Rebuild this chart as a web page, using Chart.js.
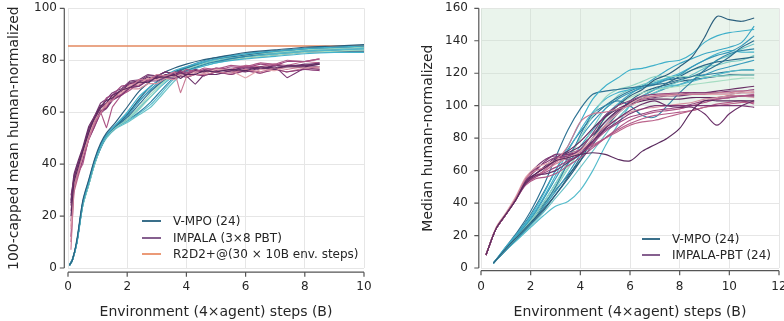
<!DOCTYPE html>
<html><head><meta charset="utf-8">
<script src="https://cdn.jsdelivr.net/npm/chart.js@4/dist/chart.umd.min.js"></script>
<style>
body{margin:0;background:#fff;}
#wrap{position:relative;width:784px;height:321px;overflow:hidden;font-family:'DejaVu Sans',sans-serif;color:#262626;}
canvas{position:absolute;top:0;}
.lg{position:absolute;font-size:12px;line-height:14px;white-space:nowrap;font-family:'DejaVu Sans',sans-serif;color:#262626;}
.sw{position:absolute;height:2px;width:19px;}
</style></head><body>
<div id="wrap">
<canvas id="c1" width="392" height="321" style="left:0"></canvas>
<canvas id="c2" width="392" height="321" style="left:392px"></canvas>
<div class="sw" style="left:142px;top:220px;background:#3a6f8a"></div>
<div class="lg" style="left:173px;top:214px">V-MPO (24)</div>
<div class="sw" style="left:142px;top:237px;background:#86608f"></div>
<div class="lg" style="left:173px;top:231px">IMPALA (3×8 PBT)</div>
<div class="sw" style="left:142px;top:253px;background:#eb9a77"></div>
<div class="lg" style="left:173px;top:247px">R2D2+@(30 × 10B env. steps)</div>
<div class="sw" style="left:642px;top:238px;width:18px;background:#3a6f8a"></div>
<div class="lg" style="left:672px;top:232px">V-MPO (24)</div>
<div class="sw" style="left:642px;top:254px;width:18px;background:#86608f"></div>
<div class="lg" style="left:672px;top:248px">IMPALA-PBT (24)</div>
</div>
<script>
// ---------- DATA ----------
const leftXTicks = [0, 2, 4, 6, 8, 10];
const leftYTicks = [0, 20, 40, 60, 80, 100];
const rightXTicks = [0, 2, 4, 6, 8, 10, 12];
const rightYTicks = [0, 20, 40, 60, 80, 100, 120, 140, 160];

const r2d2Level = 85.5;
const r2d2X = [0, 10];

// Left panel: V-MPO runs (x = env steps, B)
const leftVmpoX = [0.05, 0.15, 0.3, 0.5, 0.7, 0.9, 1.1, 1.3, 1.6, 2.0, 2.4, 2.8, 3.2, 3.6, 4.0, 4.5, 5, 6, 7, 8, 9, 10];
const leftVmpo = [
  [1, 3, 11, 26, 34, 42, 48, 52, 56, 62, 68, 72, 75, 77, 78.5, 80, 81, 83, 84, 85, 85.5, 86],
  [1, 3, 10, 25, 33, 41, 47, 51, 55, 60, 66, 70, 73.5, 76, 77.5, 79, 80.5, 82.5, 83.5, 84.5, 85, 85.5],
  [1.2, 3.5, 10, 25, 33, 41, 47, 51, 54.5, 58, 63, 68, 72, 75, 77, 79, 80.5, 82, 83.5, 84.5, 85, 85.5],
  [1, 3, 10, 24, 32, 40, 46.5, 50.5, 54, 57, 61, 66, 71, 74.5, 76.5, 78.5, 80, 82, 83, 84, 84.5, 85],
  [1, 3, 9.5, 24, 32, 40, 46, 50.5, 54, 57, 60, 64, 69, 73.5, 76, 78, 79.5, 81.5, 83, 84, 84.5, 85],
  [1.3, 3.5, 10, 25, 33, 41, 47, 51, 54, 56.5, 59.5, 63, 68, 73, 76, 78, 79.5, 81.5, 82.5, 83.5, 84, 84.5],
  [1, 3, 10, 24.5, 32.5, 40.5, 46.5, 50.5, 54, 58.5, 64, 69, 72.5, 75, 77, 78.5, 80, 81.5, 82.5, 83.5, 84, 84.5],
  [1, 3, 10, 24, 32, 40, 46.5, 50.5, 54, 57.5, 62, 67, 71.5, 74.5, 76.5, 78, 79.5, 81, 82, 83, 83.5, 84],
  [1.2, 3, 10, 25, 33, 41, 47, 51, 54.5, 59, 65, 70, 73, 75.5, 77, 78.5, 79.5, 81, 82, 83, 83.5, 83.5],
  [1, 3, 10, 24.5, 32.5, 40.5, 46.5, 50.5, 54, 57, 61.5, 66, 70.5, 74, 76, 77.5, 79, 80.5, 81.5, 82.5, 83, 83],
  [1, 3, 10, 24, 32, 40, 46, 50, 53.5, 56, 59, 62, 67, 72, 75.5, 77.5, 79, 81, 82.5, 83.5, 84, 84],
  [1, 3.2, 10.5, 25.5, 33.5, 41.5, 47.5, 51.5, 55, 59.5, 64.5, 68.5, 72, 75.5, 77.5, 79.5, 81, 82.5, 83.5, 84.5, 85, 85]
];

// Left panel: IMPALA runs
const leftImpalaX = [0.1, 0.2, 0.35, 0.5, 0.7, 0.9, 1.1, 1.3, 1.5, 1.8, 2.1, 2.4, 2.7, 3.0, 3.3, 3.6, 3.8, 4.0, 4.3, 4.6, 5.0, 5.5, 6.0, 6.5, 7.0, 7.4, 8.0, 8.5];
const leftImpala = [
  [20, 33, 39, 45, 52, 58, 62, 64.5, 65.5, 68.5, 69.5, 71.5, 71.5, 73.5, 73.5, 74.5, 73, 74.5, 74.5, 76, 75.5, 76.5, 76, 77.5, 77, 77.5, 77.5, 78.5],
  [7, 30, 37, 43.5, 49.5, 56.5, 59.5, 63.5, 64.5, 68.5, 69.5, 72.5, 72.5, 74.5, 74, 75.5, 67.5, 73.5, 74.5, 74.5, 75.5, 75, 76.5, 75.5, 77, 76.5, 77.5, 77],
  [25, 35, 40.5, 45.5, 53.5, 57.5, 61.5, 63.5, 66.5, 68.5, 71.5, 72, 74, 74, 75.5, 74.5, 75.5, 74, 70.8, 74.5, 74.5, 76, 75.5, 77, 76.5, 78, 78, 79],
  [15, 32, 38.5, 43.5, 51.5, 56.5, 61.5, 63, 66, 67.5, 70.5, 71, 73, 72.5, 74, 73.5, 74.5, 74, 75.5, 75, 76.5, 76, 73.2, 76.5, 76, 77.5, 77, 77.5],
  [28, 34, 40.5, 44.5, 52.5, 56.5, 60.5, 61.5, 64.5, 66.5, 69.5, 70, 72.5, 72.5, 74, 73.5, 75, 74.5, 75.5, 75, 76.5, 75.5, 77, 76.5, 77.5, 73.3, 77, 76.5],
  [22, 31, 37, 40, 50, 56, 60, 54, 62, 66.5, 68.5, 71.5, 72, 74, 74, 75.5, 75, 76.5, 75.5, 77, 76.5, 78, 77.5, 79, 78.5, 80, 79.5, 80.5],
  [18, 30, 36.5, 41.5, 49.5, 54.5, 59.5, 61.5, 65, 66.5, 69.5, 70, 72, 72, 73.5, 73, 74, 73.5, 74.5, 74, 75.5, 74.5, 76, 75, 76.5, 75.5, 76.5, 76],
  [12, 33, 38.5, 45.5, 51.5, 58.5, 61.5, 65.5, 66.5, 70, 70.5, 72.5, 72, 73.5, 73.5, 75, 74.5, 75.5, 75, 76.5, 76, 77.5, 77, 78.5, 78, 79.5, 79.5, 80.5],
  [26, 36, 41.5, 46.5, 54.5, 58.5, 62.5, 63.5, 66.5, 68, 71, 71.5, 73.5, 73, 74.5, 74, 75, 74.5, 76, 75.5, 76.5, 76, 77.5, 76.5, 78, 77.5, 78.5, 78.5],
  [10, 29, 35.5, 41.5, 49.5, 54.5, 60, 62, 65.5, 67, 70, 70.5, 73, 73, 74.5, 74, 75.5, 75, 76, 75.5, 77, 76.5, 78, 77.5, 78.5, 78, 79.5, 79],
  [24, 34, 40.5, 45.5, 53.5, 58.5, 63.5, 65, 67.5, 69, 72, 72.5, 74.5, 74, 75.5, 74.5, 76, 75, 76.5, 75.5, 77, 76, 77.5, 77, 78, 77.5, 78, 77.5],
  [16, 31, 38.5, 43.5, 50.5, 55.5, 60.5, 62.5, 65.5, 66.5, 69, 69, 71, 71, 73, 72.5, 74, 73.5, 74.5, 74, 75.5, 74.5, 76, 75, 76.5, 75.5, 77, 76.5]
];

// Right panel: V-MPO runs
const rightVmpoX = [0.5, 1, 1.5, 2, 2.5, 3, 3.5, 4, 4.5, 5, 5.5, 6, 6.5, 7, 7.5, 8, 8.5, 9, 9.5, 10, 10.5, 11];
const rightVmpo = [
  [3, 12, 20, 28, 36, 45, 55, 66, 80, 93, 100, 106, 110, 116, 119, 124, 130, 142, 155, 153, 152, 154],
  [3, 13, 22, 32, 45, 60, 75, 90, 104, 112, 117, 122, 123, 125, 127, 128, 132, 139, 143, 145, 146, 147],
  [3, 13, 23, 35, 50, 68, 85, 98, 107, 109, 110, 111, 112, 113, 114, 116, 118, 121, 125, 130, 136, 140],
  [3, 12, 20, 29, 40, 52, 66, 80, 94, 105, 110, 112, 115, 118, 118, 118, 118, 118, 118, 118.5, 119, 119],
  [3, 11, 19, 27, 38, 50, 65, 82, 95, 100, 103, 100, 94, 93, 100, 108, 115, 122, 128, 132, 134, 135],
  [3, 11, 18, 25, 32, 38, 41, 48, 60, 75, 88, 100, 106, 110, 112, 113, 115, 117, 119, 121, 122, 122],
  [3, 12, 21, 30, 42, 55, 68, 80, 90, 98, 104, 108, 111, 113, 116, 119, 124, 128, 131, 133, 137, 143],
  [3, 12, 20, 28, 38, 50, 62, 72, 83, 92, 100, 105, 108, 110, 111, 112, 113, 114, 115, 116, 117, 117],
  [3, 11, 19, 27, 35, 45, 56, 68, 80, 90, 97, 102, 106, 110, 114, 118, 122, 125, 127, 128, 129, 130],
  [3, 12, 21, 31, 43, 57, 72, 85, 96, 104, 108, 110, 112, 114, 117, 120, 124, 128, 132, 134, 133, 133],
  [3, 11, 18, 26, 34, 43, 52, 62, 72, 82, 92, 100, 105, 108, 112, 115, 119, 123, 128, 131, 135, 138],
  [3, 12, 20, 28, 37, 47, 58, 70, 80, 88, 95, 101, 105, 108, 111, 113, 116, 119, 122, 124, 126, 128],
  [3, 12, 22, 33, 46, 60, 73, 84, 93, 100, 105, 109, 112, 114, 116, 117, 118, 119, 120, 121, 122, 122],
  [3, 11, 19, 27, 37, 49, 61, 73, 86, 98, 106, 110, 113, 115, 117, 119, 122, 124, 125, 127, 128, 131],
  [3, 12, 21, 30, 40, 52, 64, 75, 85, 94, 101, 107, 112, 117, 122, 126, 129, 132, 134, 136, 139, 149],
  [3, 11, 20, 29, 39, 48, 57, 66, 76, 86, 95, 103, 108, 111, 113, 115, 116, 117, 118, 119, 119, 119]
];

// Right panel: IMPALA-PBT runs
const rightImpalaX = [0.2, 0.6, 1.0, 1.4, 1.8, 2.2, 2.6, 3.0, 3.5, 4.0, 4.5, 5.0, 5.5, 6.0, 6.5, 7.0, 7.5, 8.0, 8.5, 9.0, 9.5, 10.0, 10.5, 11];
const rightImpala = [
  [8, 24, 33, 42, 53, 58, 62, 66, 68, 70, 71, 70, 67, 66, 72, 76, 80, 86, 97, 103, 103, 103, 103, 103],
  [8, 24, 33, 43, 55, 60, 62, 66, 75, 90, 95, 96, 98, 100, 104, 106, 107, 107, 107, 107, 108, 108, 109, 109],
  [8, 24, 33, 42, 52, 57, 58, 60, 65, 70, 78, 86, 92, 97, 101, 103, 100, 99, 99, 95, 88, 95, 100, 103],
  [8, 25, 34, 44, 56, 62, 64, 66, 68, 72, 80, 88, 95, 101, 105, 106, 106, 107, 107, 107, 107, 107, 108, 108],
  [8, 24, 33, 43, 54, 60, 66, 70, 70, 72, 78, 85, 90, 95, 98, 100, 100, 100, 100, 100, 100, 100, 100, 99],
  [8, 24, 33, 42, 51, 55, 56, 58, 63, 68, 74, 80, 86, 91, 94, 96, 97, 98, 100, 102, 104, 105, 106, 107],
  [8, 24, 33, 43, 55, 61, 65, 68, 69, 73, 83, 94, 100, 103, 106, 107, 107.5, 108, 108, 108, 108, 109, 109, 110],
  [8, 24, 33, 42, 52, 56, 59, 62, 66, 70, 77, 84, 89, 93, 95, 97, 98, 99, 101, 103, 104, 105, 106, 106],
  [8, 24, 33, 43, 54, 58, 62, 67, 71, 75, 82, 90, 97, 102, 105, 106, 107, 107, 108, 108, 109, 110, 111, 112],
  [8, 24, 33, 42, 53, 57, 60, 65, 70, 73, 76, 80, 84, 88, 90, 91, 93, 95, 97, 99, 100, 101, 102, 102],
  [8, 24, 33, 43, 55, 62, 67, 69, 67, 70, 78, 88, 96, 102, 104, 105, 106, 106, 107, 107, 107, 107, 108, 108],
  [8, 24, 33, 42, 52, 56, 60, 64, 68, 72, 80, 87, 92, 96, 98, 99, 100, 101, 102, 104, 105, 106, 106, 105],
  [8, 24, 33, 43, 53, 58, 63, 68, 72, 78, 86, 93, 98, 101, 103, 104, 104, 104, 105, 105, 105, 106, 106, 106],
  [8, 24, 33, 42, 52, 56, 61, 66, 69, 71, 75, 80, 85, 89, 92, 94, 95, 96, 97, 99, 101, 102, 103, 101]
];

const shadeRange = [100, 160];

// ---------- STYLE ----------
const vmpoColors = ['#2b5f7d','#3fb0ca','#2e7293','#8fd3c3','#3185a6','#55bccc','#3597b8','#a5dcc2','#2a6886','#43b3cc','#6cc4c8','#3a9dbd','#2f7898','#7ccbc5','#3aa6c4','#2c6483'];
const impalaColors = ['#5a2a5e','#c97a95','#6b3069','#e2a8b0','#7c3873','#ad5585','#8c3f7a','#9d4880','#6a2f66','#bc658c','#7a3b74','#d690a0','#63295f','#b35a88'];
const FONT = "'DejaVu Sans', sans-serif";
const TXT = '#262626';

function series(xs, ys, color, order, extra) {
  return Object.assign({
    data: xs.map((x, i) => ({x: x, y: ys[i]})),
    borderColor: color, borderWidth: 1.15, pointRadius: 0, pointHoverRadius: 0,
    tension: 0.3, fill: false, order: order
  }, extra || {});
}

const spines = {
  id: 'spines',
  afterDraw(chart, args, opts) {
    const {ctx, chartArea: a, scales: {x, y}} = chart;
    const off = opts.off;
    ctx.save();
    ctx.strokeStyle = '#555';
    ctx.lineWidth = 1.2;
    ctx.beginPath();
    const sx = a.left - off;
    ctx.moveTo(sx, a.top); ctx.lineTo(sx, a.bottom);
    y.ticks.forEach(t => { const py = y.getPixelForValue(t.value); ctx.moveTo(sx, py); ctx.lineTo(sx - 4.5, py); });
    const sy = a.bottom + off + 0.5;
    ctx.moveTo(a.left, sy); ctx.lineTo(a.right, sy);
    x.ticks.forEach(t => { const px = x.getPixelForValue(t.value); ctx.moveTo(px, sy); ctx.lineTo(px, sy + 4.5); });
    ctx.stroke();
    ctx.restore();
  }
};

function makeOptions(xMax, yMax, yTitle, yW, padRight, yTitlePad, yTickPad, spineOff, xTicks, yTicks) {
  return {
    responsive: false, animation: false, devicePixelRatio: 1,
    layout: {padding: {left: 0, top: 8.3, right: padRight, bottom: 0}},
    plugins: {legend: {display: false}, tooltip: {enabled: false}, spines: {off: spineOff}},
    scales: {
      x: {
        type: 'linear', min: 0, max: xMax,
        afterBuildTicks: s => { s.ticks = xTicks.map(v => ({value: v})); },
        ticks: {font: {family: FONT, size: 12}, color: TXT, padding: 11.5, maxRotation: 0},
        grid: {color: '#e6e6e6', lineWidth: 1, drawTicks: false},
        border: {display: false},
        title: {display: true, text: 'Environment (4×agent) steps (B)', font: {family: FONT, size: 14}, color: TXT, padding: {top: 0, bottom: 0.5}},
        afterFit: s => { s.height = 53; s.paddingLeft = 0; s.paddingRight = 0; }
      },
      y: {
        type: 'linear', min: 0, max: yMax,
        afterBuildTicks: s => { s.ticks = yTicks.map(v => ({value: v})); },
        ticks: {font: {family: FONT, size: 12}, color: TXT, padding: yTickPad},
        grid: {color: '#e6e6e6', lineWidth: 1, drawTicks: false},
        border: {display: false},
        title: {display: true, text: yTitle, font: {family: FONT, size: 14}, color: TXT, padding: {top: yTitlePad, bottom: 0}},
        afterFit: s => { s.width = yW; s.paddingTop = 0; s.paddingBottom = 0; }
      }
    }
  };
}

// Left chart
const leftSets = [];
leftSets.push(series(r2d2X, [r2d2Level, r2d2Level], '#e3895f', 5, {borderWidth: 1.6, tension: 0}));
leftVmpo.forEach((ys, i) => leftSets.push(series(leftVmpoX, ys, vmpoColors[i % vmpoColors.length], 3)));
leftImpala.forEach((ys, i) => leftSets.push(series(leftImpalaX, ys, impalaColors[i % impalaColors.length], 2, {tension: 0.05})));

new Chart(document.getElementById('c1'), {
  type: 'line',
  data: {datasets: leftSets},
  options: makeOptions(10, 100, '100-capped mean human-normalized', 68, 28, 6, 11, 3.7, leftXTicks, leftYTicks),
  plugins: [spines]
});

// Right chart
const rightSets = [];
rightSets.push(series([0, 12], [shadeRange[1], shadeRange[1]], 'rgba(0,0,0,0)', 9,
  {borderWidth: 0, tension: 0, fill: {value: shadeRange[0]}, backgroundColor: 'rgba(200,226,204,0.38)'}));
rightVmpo.forEach((ys, i) => rightSets.push(series(rightVmpoX, ys, vmpoColors[i % vmpoColors.length], 3)));
rightImpala.forEach((ys, i) => rightSets.push(series(rightImpalaX, ys, impalaColors[i % impalaColors.length], 2)));

new Chart(document.getElementById('c2'), {
  type: 'line',
  data: {datasets: rightSets},
  options: makeOptions(12, 160, 'Median human-normalized', 89, 5, 28, 13, 2.2, rightXTicks, rightYTicks),
  plugins: [spines]
});
</script>
</body></html>
